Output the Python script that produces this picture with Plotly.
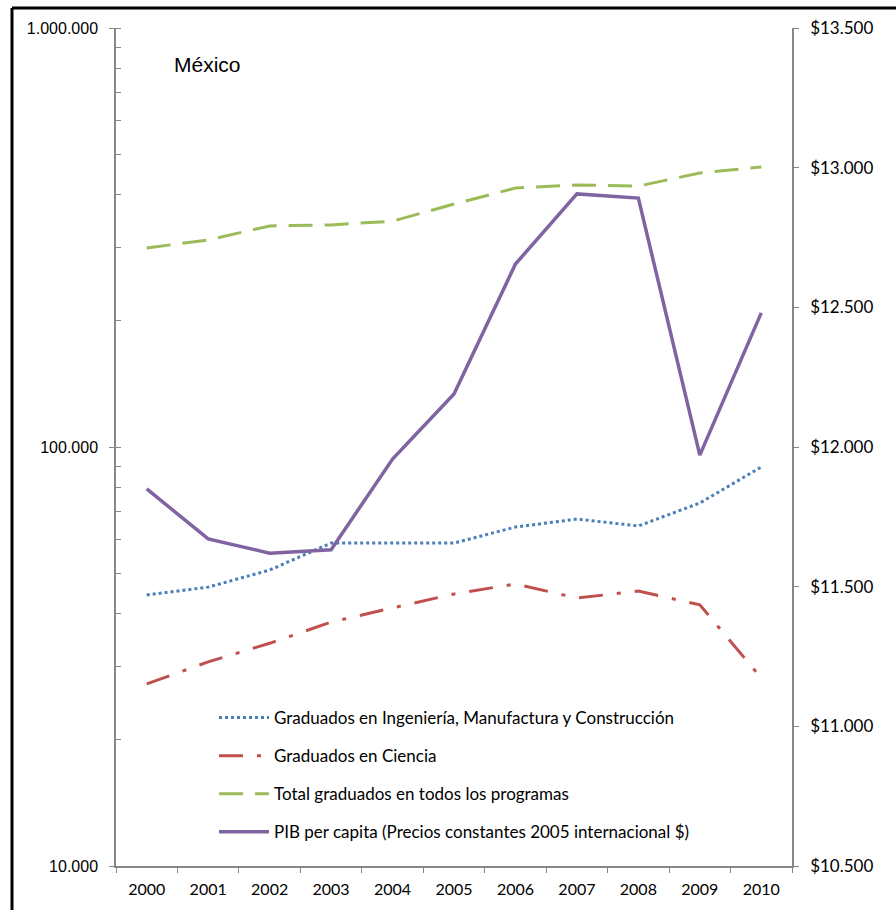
import plotly.graph_objects as go

years = ["2000", "2001", "2002", "2003", "2004", "2005", "2006", "2007", "2008", "2009", "2010"]
ingenieria = [44350, 46300, 50850, 59000, 59000, 59000, 64400, 67300, 64800, 73500, 89600]
ciencia = [27200, 30700, 34000, 38200, 41300, 44600, 47100, 43600, 45300, 42000, 28100]
total = [298500, 312000, 337000, 338800, 346000, 380000, 415000, 422000, 419600, 450700, 466000]
pib = [11850, 11671, 11620, 11632, 11957, 12190, 12655, 12906, 12891, 11971, 12480]

left_vals = [10000, 100000, 1000000]
left_text = ["10.000", "100.000", "1.000.000"]
right_vals = [10500, 11000, 11500, 12000, 12500, 13000, 13500]
right_text = ["$10.500", "$11.000", "$11.500", "$12.000", "$12.500", "$13.000", "$13.500"]

minor_vals = [m * d for d in (10000, 100000) for m in range(1, 11)]

fig = go.Figure()
fig.add_trace(go.Scatter(x=years, y=ingenieria, mode="lines", name="Graduados en Ingeniería, Manufactura y Construcción",
                         line=dict(color="#4a7ebb", width=3, dash="dot"), legendgroup="a"))
fig.add_trace(go.Scatter(x=years, y=ciencia, mode="lines", name="Graduados en Ciencia",
                         line=dict(color="#c0504d", width=3, dash="24px,14px,4px,14px"), legendgroup="b"))
fig.add_trace(go.Scatter(x=years, y=total, mode="lines", name="Total graduados en todos los programas",
                         line=dict(color="#9bbb59", width=3, dash="24px,12px"), legendgroup="c"))
fig.add_trace(go.Scatter(x=years, y=pib, mode="lines", name="PIB per capita (Precios constantes 2005 internacional $)",
                         line=dict(color="#8064a2", width=3.5), yaxis="y2", legendgroup="d"))

W, H = 896, 910
L, R, T, B = 116, 792, 28, 866

def px(x):
    return (x - L) / (R - L)

def py(y):
    return (B - y) / (B - T)

fig.update_layout(
    width=W, height=H,
    margin=dict(l=L, r=W - R, t=T, b=H - B),
    paper_bgcolor="white", plot_bgcolor="white",
    showlegend=True,
    legend=dict(x=px(214), y=py(700), xanchor="left", yanchor="top",
                font=dict(family="Lato", size=17, color="#000000"),
                bgcolor="rgba(0,0,0,0)", tracegroupgap=13, itemwidth=50),
    xaxis=dict(type="category", range=[-0.5, 10.5], showline=True, linecolor="#868686", linewidth=1.5,
               ticks="outside", ticklen=5, tickcolor="#868686", tickson="boundaries",
               showgrid=False, zeroline=False, ticklabelstandoff=8,
               tickfont=dict(family="Lato", size=16, color="#000000")),
    yaxis=dict(type="log", range=[4, 6], tickvals=left_vals, ticktext=left_text,
               showline=True, linecolor="#868686", linewidth=1.5,
               ticks="outside", ticklen=5, tickcolor="#868686", showgrid=False, zeroline=False,
               ticklabelstandoff=8,
               minor=dict(tickvals=minor_vals, ticks="inside", ticklen=5, tickcolor="#868686", showgrid=False),
               tickfont=dict(family="Liberation Sans", size=16, color="#000000")),
    yaxis2=dict(range=[10500, 13500], tickvals=right_vals, ticktext=right_text, overlaying="y", side="right",
                showline=True, linecolor="#868686", linewidth=1.5,
                ticks="outside", ticklen=5, tickcolor="#868686", showgrid=False, zeroline=False,
                ticklabelstandoff=8,
                tickfont=dict(family="Lato", size=17, color="#000000")),
    annotations=[dict(text="México", x=px(172), y=py(64), xref="paper", yref="paper",
                      xanchor="left", yanchor="middle", showarrow=False,
                      font=dict(family="Liberation Sans", size=21, color="#000000"))],
    shapes=[
        dict(type="line", xref="paper", yref="paper", x0=px(12), x1=px(900), y0=py(8), y1=py(8),
             line=dict(color="#000000", width=3)),
        dict(type="line", xref="paper", yref="paper", x0=px(12), x1=px(12), y0=py(8), y1=py(915),
             line=dict(color="#000000", width=3)),
    ],
)

fig.write_html("out.html")
